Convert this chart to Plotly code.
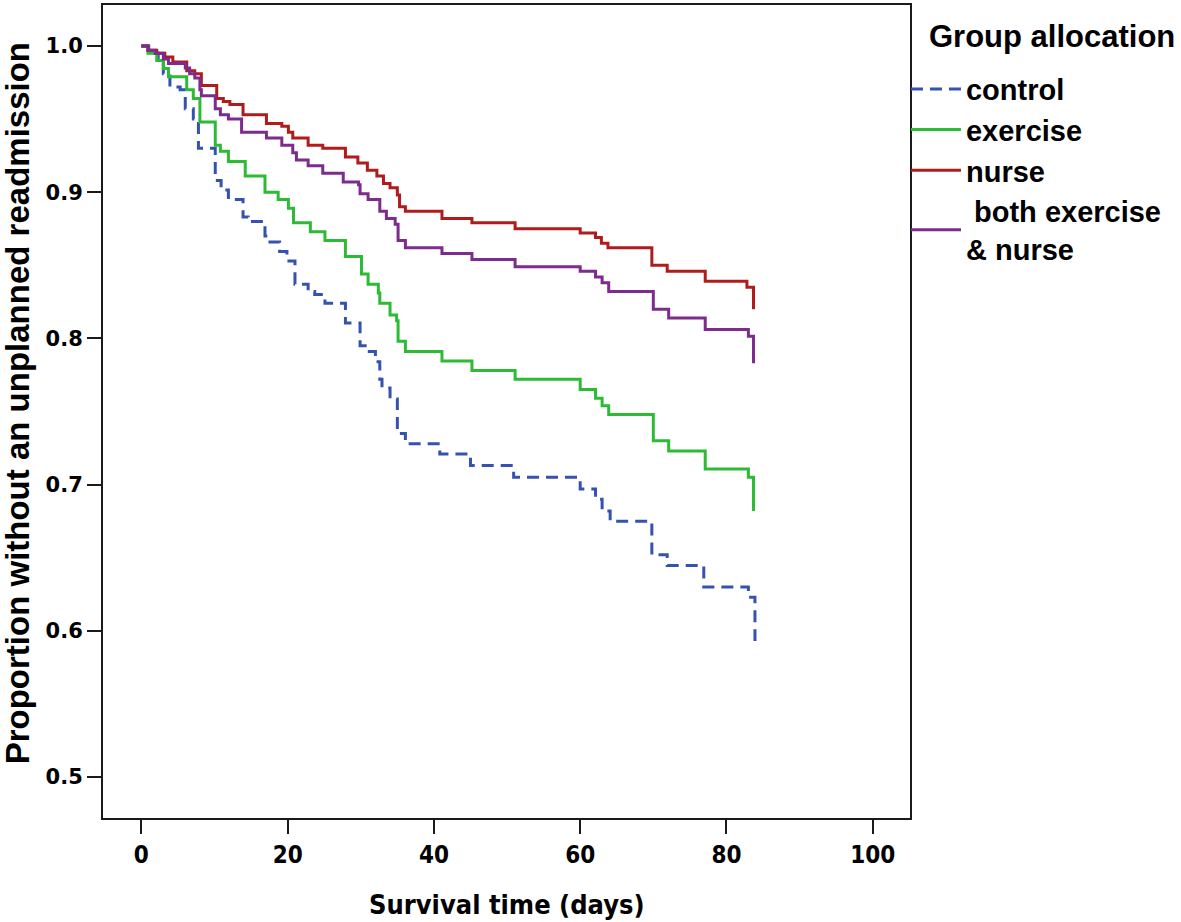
import plotly.graph_objects as go

# ---- data (days, proportion without readmission) ----
control_days = [0, 1.0, 2.3, 3.0, 3.9, 5.3, 6.0, 7.1, 7.8, 10.1, 10.9, 11.9, 13.9, 14.6, 16.9, 17.3, 18.9, 19.9, 21.0, 22.8,
                23.7, 25.1, 27.9, 29.9, 30.9, 32.0, 32.6, 32.9, 34.0, 35.0, 36.1, 40.8, 45.0, 50.9, 60.0, 62.1, 63.0, 64.1,
                69.8, 71.9, 76.9, 83.0, 83.9]
control_surv = [1.0, 0.995, 0.989, 0.981, 0.972, 0.970, 0.957, 0.950, 0.930, 0.908, 0.9015, 0.895, 0.883, 0.880, 0.870,
                0.866, 0.8595, 0.853, 0.837, 0.832, 0.830, 0.824, 0.8106, 0.795, 0.791, 0.784, 0.772, 0.766, 0.7585, 0.735,
                0.728, 0.721, 0.713, 0.705, 0.697, 0.690, 0.682, 0.675, 0.652, 0.6446, 0.630, 0.623, 0.593]

exercise_days = [0, 0.9, 2.1, 3.0, 3.7, 6.2, 7.1, 8.0, 10.1, 10.8, 11.9, 14.2, 16.9, 18.7, 20.1, 20.8, 23.1, 25.1, 27.9,
                 30.1, 31.0, 32.4, 32.6, 34.0, 34.9, 35.1, 36.1, 41.1, 45.2, 51.1, 60.0, 62.1, 63.0, 63.9, 70.0, 72.1,
                 77.1, 83.0, 83.7]
exercise_surv = [1.0, 0.995, 0.990, 0.9845, 0.979, 0.970, 0.964, 0.948, 0.932, 0.928, 0.921, 0.911, 0.900, 0.895, 0.889,
                 0.879, 0.873, 0.867, 0.856, 0.844, 0.837, 0.831, 0.824, 0.816, 0.812, 0.798, 0.791, 0.7845, 0.778,
                 0.772, 0.765, 0.759, 0.754, 0.748, 0.730, 0.723, 0.7106, 0.705, 0.682]

nurse_days = [0, 0.9, 2.1, 3.2, 4.3, 6.2, 7.3, 8.2, 10.3, 11.2, 12.1, 13.9, 17.1, 19.2, 20.1, 20.7, 22.8, 24.8, 27.9,
              29.6, 30.9, 32.2, 33.1, 34.0, 35.0, 35.3, 36.1, 41.1, 45.2, 51.1, 60.0, 62.1, 62.9, 63.8, 69.8, 71.9,
              77.1, 82.8, 83.7]
nurse_surv = [1.0, 0.997, 0.995, 0.9925, 0.989, 0.983, 0.981, 0.973, 0.964, 0.962, 0.960, 0.953, 0.947, 0.945, 0.941,
              0.937, 0.932, 0.930, 0.924, 0.920, 0.915, 0.911, 0.906, 0.903, 0.898, 0.890, 0.887, 0.882, 0.879, 0.875,
              0.872, 0.869, 0.865, 0.862, 0.850, 0.846, 0.839, 0.835, 0.820]

both_days = [0, 0.9, 1.9, 3.0, 3.7, 6.0, 6.6, 7.3, 8.0, 8.2, 10.1, 10.8, 11.9, 13.7, 17.1, 19.2, 20.7, 21.2, 22.8, 24.8,
             27.6, 29.7, 29.9, 31.0, 32.6, 33.5, 34.7, 35.1, 36.1, 41.1, 45.2, 51.1, 60.0, 62.1, 63.0, 63.9, 70.0, 72.1,
             77.1, 83.0, 83.7]
both_surv = [1.0, 0.997, 0.995, 0.991, 0.988, 0.985, 0.981, 0.978, 0.970, 0.966, 0.957, 0.953, 0.950, 0.941, 0.937,
             0.932, 0.927, 0.922, 0.918, 0.913, 0.907, 0.905, 0.899, 0.895, 0.887, 0.882, 0.878, 0.867, 0.862, 0.858,
             0.854, 0.849, 0.846, 0.842, 0.838, 0.832, 0.820, 0.814, 0.806, 0.8015, 0.783]

group_names = ["control", "exercise", "nurse", "\u00a0both exercise<br>& nurse"]
group_colors = ["#3552B0", "#2DBA35", "#B01C1C", "#7E2B8E"]
group_dashes = ["12px,7px", "solid", "solid", "solid"]
legend_title = "Group allocation"
x_title = "Survival time (days)"
y_title = "Proportion without an unplanned readmission"
x_ticks = [0, 20, 40, 60, 80, 100]
y_ticks = [0.5, 0.6, 0.7, 0.8, 0.9, 1.0]

series = [(control_days, control_surv), (exercise_days, exercise_surv),
          (nurse_days, nurse_surv), (both_days, both_surv)]

fig = go.Figure()
for (t, s), name, color, dash in zip(series, group_names, group_colors, group_dashes):
    fig.add_trace(go.Scatter(
        x=t, y=s, mode="lines", name=name, legendgroup=name,
        line=dict(shape="hv", color=color, width=3, dash=dash),
        hoverinfo="skip",
    ))

axis_common = dict(
    showline=True, linecolor="#1a1a1a", linewidth=2, mirror=True,
    showgrid=False, zeroline=False, ticks="outside", ticklen=14, tickwidth=2, tickcolor="#1a1a1a",
)

fig.update_layout(
    width=1181, height=922,
    margin=dict(l=103, r=271, t=3, b=104),
    paper_bgcolor="white", plot_bgcolor="white",
    xaxis=dict(range=[-5.25, 105.1], tickvals=x_ticks, ticktext=[str(v) for v in x_ticks],
               tickfont=dict(family="Liberation Sans Narrow, DejaVu Sans Condensed, Liberation Sans, Arial",
                             size=24, color="black", weight="bold"),
               **axis_common),
    yaxis=dict(range=[0.472, 1.028], tickvals=y_ticks, ticktext=[f"{v:.1f}" for v in y_ticks],
               tickfont=dict(family="DejaVu Sans", size=21, color="black", weight="bold"),
               **axis_common),
    showlegend=True,
    legend=dict(
        x=0.995, xanchor="left", y=0.928, yanchor="top",
        font=dict(family="Liberation Sans, Arial", size=29, color="black", weight="bold"),
        itemwidth=50, tracegroupgap=0, bgcolor="rgba(0,0,0,0)",
    ),
    annotations=[
        dict(text=y_title, xref="paper", yref="paper",
             x=-0.1066, y=0.51, xanchor="center", yanchor="middle", textangle=-90, showarrow=False,
             font=dict(family="Liberation Sans, Arial", size=33, color="black", weight="bold")),
        dict(text=x_title, xref="paper", yref="paper",
             x=0.5, y=-0.107, xanchor="center", yanchor="middle", showarrow=False,
             font=dict(family="Liberation Sans Narrow, DejaVu Sans Condensed, Liberation Sans, Arial", size=27,
                       color="black", weight="bold")),
        dict(text=legend_title, xref="paper", yref="paper",
             x=1.021, y=0.9607, xanchor="left", yanchor="middle", showarrow=False,
             font=dict(family="Liberation Sans, Arial", size=31, color="black", weight="bold")),
    ],
)

fig.write_html("out.html", config={"displayModeBar": False},
               post_script="document.body.style.margin='0px';")
